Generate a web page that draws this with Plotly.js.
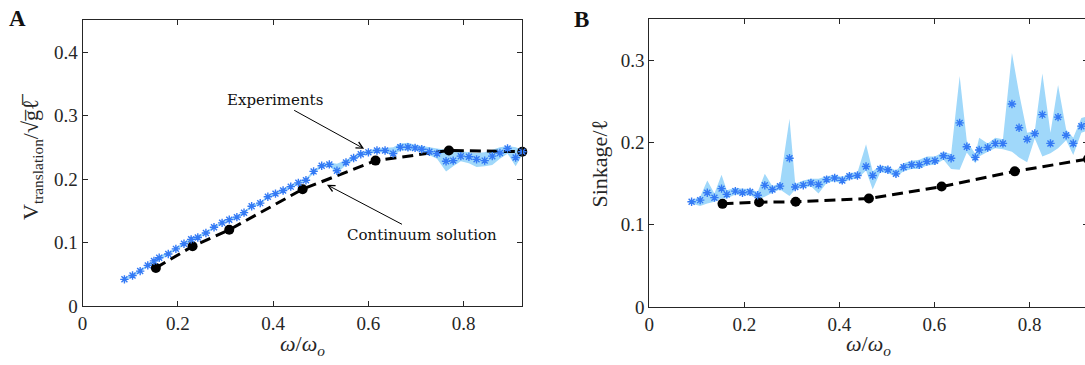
<!DOCTYPE html>
<html>
<head>
<meta charset="utf-8">
<script src="https://cdn.plot.ly/plotly-3.0.1.min.js"></script>
<style>
html,body{margin:0;padding:0;overflow:hidden;background:#fff;width:1085px;height:365px;}
#chart{width:1092px;height:365px;}
</style>
</head>
<body>
<div id="chart"></div>
<script>
// ---------- Panel A: translation speed ----------
const xA = [0.088,0.105,0.121,0.137,0.150,0.161,0.180,0.196,0.213,0.228,0.242,0.259,0.276,0.293,0.308,0.324,0.339,0.355,0.373,0.389,0.405,0.421,0.437,0.453,0.469,0.485,0.502,0.518,0.534,0.553,0.569,0.584,0.600,0.618,0.635,0.652,0.667,0.683,0.698,0.712,0.728,0.744,0.763,0.778,0.794,0.811,0.827,0.844,0.860,0.876,0.892,0.909,0.923];
const yA = [0.042,0.048,0.055,0.064,0.071,0.076,0.082,0.090,0.098,0.105,0.108,0.115,0.124,0.131,0.136,0.140,0.147,0.157,0.162,0.172,0.177,0.182,0.188,0.194,0.198,0.212,0.221,0.223,0.213,0.226,0.233,0.239,0.242,0.245,0.245,0.240,0.250,0.250,0.249,0.247,0.243,0.240,0.228,0.229,0.236,0.235,0.231,0.229,0.236,0.241,0.248,0.234,0.243];
const loA = [0.040,0.046,0.053,0.062,0.067,0.072,0.080,0.088,0.096,0.102,0.106,0.113,0.122,0.129,0.134,0.138,0.145,0.155,0.160,0.170,0.175,0.180,0.186,0.192,0.196,0.209,0.218,0.220,0.209,0.222,0.230,0.236,0.239,0.242,0.242,0.236,0.245,0.245,0.245,0.243,0.238,0.232,0.212,0.220,0.228,0.225,0.219,0.220,0.222,0.232,0.240,0.220,0.238];
const hiA = [0.044,0.050,0.057,0.066,0.073,0.079,0.085,0.092,0.100,0.107,0.111,0.117,0.126,0.133,0.138,0.142,0.149,0.159,0.164,0.174,0.179,0.184,0.190,0.196,0.201,0.214,0.223,0.226,0.224,0.230,0.236,0.242,0.245,0.248,0.249,0.250,0.256,0.257,0.254,0.252,0.250,0.248,0.246,0.245,0.244,0.243,0.241,0.242,0.246,0.250,0.252,0.250,0.246];

// ---------- Panel B: sinkage ----------
const xB = [0.089,0.107,0.122,0.137,0.152,0.163,0.181,0.196,0.212,0.228,0.243,0.259,0.275,0.295,0.307,0.324,0.340,0.356,0.373,0.390,0.406,0.421,0.438,0.456,0.470,0.486,0.502,0.519,0.535,0.552,0.568,0.584,0.601,0.619,0.635,0.653,0.668,0.686,0.694,0.712,0.728,0.744,0.763,0.778,0.795,0.811,0.827,0.844,0.860,0.877,0.892,0.909,0.923];
const yB = [0.128,0.130,0.139,0.133,0.144,0.137,0.141,0.139,0.140,0.136,0.148,0.143,0.147,0.181,0.146,0.148,0.151,0.149,0.155,0.157,0.154,0.159,0.160,0.171,0.160,0.168,0.167,0.162,0.170,0.173,0.173,0.177,0.178,0.184,0.181,0.224,0.195,0.182,0.191,0.194,0.199,0.199,0.247,0.218,0.204,0.211,0.234,0.199,0.231,0.209,0.199,0.220,0.223];
const loB = [0.126,0.123,0.126,0.128,0.132,0.132,0.137,0.136,0.136,0.131,0.134,0.139,0.143,0.135,0.143,0.145,0.147,0.138,0.151,0.153,0.150,0.155,0.156,0.166,0.143,0.164,0.163,0.158,0.165,0.168,0.168,0.172,0.173,0.179,0.168,0.167,0.188,0.175,0.183,0.189,0.193,0.192,0.189,0.182,0.176,0.205,0.183,0.187,0.193,0.203,0.185,0.212,0.215];
const hiB = [0.130,0.134,0.154,0.138,0.161,0.142,0.145,0.144,0.144,0.140,0.162,0.147,0.151,0.229,0.150,0.154,0.156,0.156,0.159,0.161,0.158,0.163,0.164,0.198,0.165,0.172,0.171,0.166,0.175,0.178,0.179,0.183,0.183,0.189,0.186,0.281,0.202,0.186,0.206,0.199,0.206,0.204,0.309,0.260,0.212,0.214,0.284,0.212,0.270,0.216,0.206,0.230,0.232];

// ---------- Continuum solution ----------
const xC  = [0.154,0.231,0.308,0.462,0.615,0.769,0.923];
const yCA = [0.060,0.094,0.120,0.184,0.229,0.245,0.243];
const yCB = [0.1255,0.1275,0.128,0.132,0.1465,0.165,0.180];

const xTicks = [0,0.2,0.4,0.6,0.8];
const yTicksA = [0,0.1,0.2,0.3,0.4];
const yTicksB = [0,0.1,0.2,0.3];

const W = 1092, H = 365;
const BAND = 'rgb(160,216,250)';
const STAR = 'rgb(52,122,245)';
const INK = '#262626';

function band(x, lo, hi, xa, ya){
  return {x: x.concat(x.slice().reverse()), y: hi.concat(lo.slice().reverse()),
    xaxis: xa, yaxis: ya, type:'scatter', mode:'lines', fill:'toself',
    fillcolor: BAND, line:{width:0, color: BAND}, hoverinfo:'skip', showlegend:false};
}
function stars(x, y, xa, ya){
  return {x:x, y:y, xaxis:xa, yaxis:ya, type:'scatter', mode:'markers',
    marker:{symbol:'asterisk-open', size:7, line:{color:STAR, width:1.4}, color:STAR},
    cliponaxis:false, showlegend:false};
}
function cont(x, y, xa, ya){
  return {x:x, y:y, xaxis:xa, yaxis:ya, type:'scatter', mode:'lines+markers',
    line:{color:'#000', width:3, dash:'11px,6px'},
    marker:{color:'#000', size:10}, cliponaxis:false, showlegend:false};
}

const traces = [
  band(xA, loA, hiA, 'x', 'y'),
  cont(xC, yCA, 'x', 'y'),
  stars(xA, yA, 'x', 'y'),
  band(xB, loB, hiB, 'x2', 'y2'),
  cont(xC, yCB, 'x2', 'y2'),
  stars(xB, yB, 'x2', 'y2')
];

const tickFont = {family:'Liberation Serif, serif', size:19, color:INK};
function axis(extra){
  return Object.assign({ticks:'inside', ticklen:5, tickwidth:1, tickcolor:INK,
    showline:true, linecolor:INK, linewidth:1, mirror:'ticks',
    showgrid:false, zeroline:false, tickfont:tickFont, fixedrange:true}, extra);
}

const titleFont = {family:'Liberation Serif, serif', size:22, color:INK};
const noteFont = {family:'DejaVu Serif, serif', size:15, color:'#111'};
function txt(text, x, y, extra){
  return Object.assign({text:text, xref:'paper', yref:'paper', x:x/W, y:(H-y)/H,
    xanchor:'center', yanchor:'middle', showarrow:false}, extra);
}

const layout = {
  width: W, height: H,
  margin:{l:0, r:0, t:0, b:0},
  paper_bgcolor:'#fff', plot_bgcolor:'#fff',
  showlegend:false,
  xaxis: axis({domain:[82.5/W, 522.3/W], range:[0,0.923], tickvals:xTicks, anchor:'y'}),
  yaxis: axis({domain:[(H-306)/H, (H-20.3)/H], range:[0,0.45], tickvals:yTicksA, anchor:'x'}),
  xaxis2: axis({domain:[649.3/W, 1088/W], range:[0,0.923], tickvals:xTicks, anchor:'y2'}),
  yaxis2: axis({domain:[(H-307)/H, (H-19.3)/H], range:[0,0.35], tickvals:yTicksB, anchor:'x2'}),
  annotations: [
    txt('<b>A</b>', 17, 18.5, {font:{family:'Liberation Serif, serif', size:23, color:'#111'}}),
    txt('<b>B</b>', 581, 19.5, {font:{family:'Liberation Serif, serif', size:23, color:'#111'}}),
    txt('V<sub>translation</sub>/√g\u0305ℓ\u0305', 32, 157, {textangle:-90, font:titleFont}),
    txt('Sinkage/ℓ', 599, 163.5, {textangle:-90, font:titleFont}),
    txt('<i>ω</i>/<i>ω</i><sub><i>o</i></sub>', 302, 345, {font:titleFont}),
    txt('<i>ω</i>/<i>ω</i><sub><i>o</i></sub>', 868.6, 345, {font:titleFont}),
    {text:'Experiments', xref:'x', yref:'y', x:0.591, y:0.2476, ax:-89, ay:-49,
     xanchor:'center', yanchor:'middle', showarrow:true, font:noteFont,
     arrowhead:5, arrowsize:1.3, arrowwidth:1, arrowcolor:'#000', standoff:0},
    {text:'Continuum solution', xref:'x', yref:'y', x:0.513, y:0.1909, ax:95, ay:50,
     xanchor:'center', yanchor:'middle', showarrow:true, font:noteFont,
     arrowhead:5, arrowsize:1.3, arrowwidth:1, arrowcolor:'#000', standoff:0}
  ]
};

Plotly.newPlot('chart', traces, layout, {displayModeBar:false, staticPlot:true});
</script>
</body>
</html>
